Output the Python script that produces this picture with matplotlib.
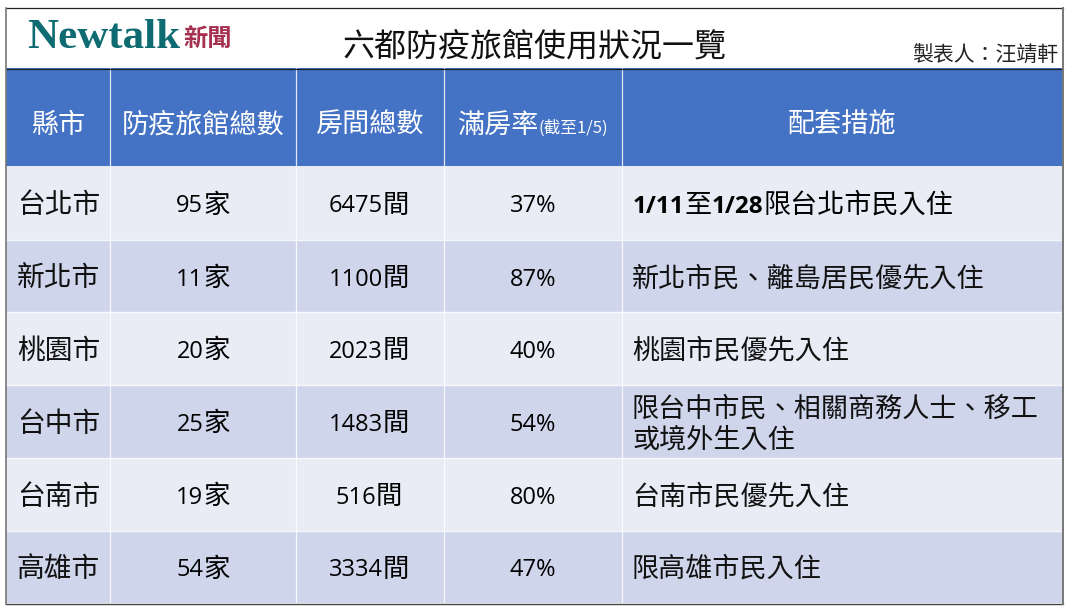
import matplotlib
matplotlib.use("Agg")
import matplotlib.pyplot as plt
from matplotlib.patches import Rectangle

CJK = "Noto Sans CJK TC"
LATIN = "Open Sans"

title = "六都防疫旅館使用狀況一覽"
author = "製表人：汪靖軒"
headers = ["縣市", "防疫旅館總數", "房間總數", "配套措施"]
cities = ["台北市", "新北市", "桃園市", "台中市", "台南市", "高雄市"]
hotels = [95, 11, 20, 25, 19, 54]
rooms = [6475, 1100, 2023, 1483, 516, 3334]
occupancy = [37, 87, 40, 54, 80, 47]
measures = [
    "1/11至1/28限台北市民入住",
    "新北市民、離島居民優先入住",
    "桃園市民優先入住",
    "限台中市民、相關商務人士、移工\n或境外生入住",
    "台南市民優先入住",
    "限高雄市民入住",
]

col_x = [6, 110, 296, 444, 622, 1063]
row_y = [166, 240, 312, 385, 458, 531, 603]

fig = plt.figure(figsize=(10.71, 6.06), dpi=100)
ax = fig.add_axes([0, 0, 1, 1])
ax.set_xlim(0, 1071)
ax.set_ylim(606, 0)
ax.axis("off")


def draw_runs(x, y, runs, ha="center", color="black"):
    # runs = (text, family, size, weight), laid out one after the other
    renderer = fig.canvas.get_renderer()
    items = []
    total = 0
    for text, family, size, weight in runs:
        t = ax.text(0, y, text, family=family, fontsize=size, weight=weight,
                    color=color, ha="left", va="baseline")
        w = t.get_window_extent(renderer).width
        items.append((t, w))
        total += w
    cur = x - total / 2 if ha == "center" else x
    for t, w in items:
        t.set_x(cur)
        cur += w


# header band
ax.add_patch(Rectangle((col_x[0], 68), col_x[-1] - col_x[0], 98, fc="#4472c4", ec="none"))

# body rows
for i in range(len(cities)):
    color = "#e9ebf5" if i % 2 == 0 else "#cfd5ea"
    ax.add_patch(Rectangle((col_x[0], row_y[i]), col_x[-1] - col_x[0], row_y[i + 1] - row_y[i],
                           fc=color, ec="none"))
for y in row_y[1:-1]:
    ax.plot([col_x[0], col_x[-1]], [y, y], color="white", lw=1.0, alpha=0.8)
for x in col_x[1:-1]:
    ax.plot([x, x], [68, row_y[-1]], color="white", lw=0.9, alpha=0.85)

# frame
ax.plot([6, 1063], [8, 8], color="#222222", lw=0.9)
ax.plot([6, 1063], [68.5, 68.5], color="#222222", lw=0.9)
ax.plot([6, 1063], [603.5, 603.5], color="#444444", lw=1.0)
ax.plot([6, 6], [8, 604], color="#777777", lw=1.2)
ax.plot([1063, 1063], [8, 604], color="#777777", lw=1.4)

# logo
ax.text(27, 48, "Newtalk", family="Liberation Serif", weight="bold", fontsize=31,
        color="#0f6b72", ha="left", va="baseline")
ax.text(183, 46, "新聞", family=CJK, weight="black", fontsize=17.5,
        color="#a5304f", ha="left", va="baseline")

ax.text(535, 56, title, family=CJK, fontsize=23, color="#111111", ha="center", va="baseline")
ax.text(1058, 62, author, family=CJK, fontsize=15, weight="light", color="#222222",
        ha="right", va="baseline")

# header labels
hdr_y = 133
hdr_kw = dict(family=CJK, fontsize=19.5, weight="medium", color="white", ha="center", va="baseline")
ax.text(58, hdr_y, headers[0], **hdr_kw)
ax.text(203, hdr_y, headers[1], **hdr_kw)
ax.text(370, hdr_y, headers[2], **hdr_kw)
ax.text(842, hdr_y, headers[3], **hdr_kw)
draw_runs(533, hdr_y, [("滿房率", CJK, 19.5, "medium"), ("(截至1/5)", CJK, 12, "medium")], color="white")

# body cells
for i, city in enumerate(cities):
    base = (row_y[i] + row_y[i + 1]) / 2 + 10
    num_base = base - 0.5
    ax.text(58.5, base, city, family=CJK, fontsize=20, weight="light", color="#111111",
            ha="center", va="baseline")
    draw_runs(203, num_base, [(str(hotels[i]), LATIN, 17, "normal"), ("家", CJK, 19, "light")])
    draw_runs(369, num_base, [(str(rooms[i]), LATIN, 17, "normal"), ("間", CJK, 19, "light")])
    ax.text(533, num_base, f"{occupancy[i]}%", family=LATIN, fontsize=17, color="black",
            ha="center", va="baseline")

    text = measures[i]
    if i == 0:
        draw_runs(633, base, [("1/11", LATIN, 17.5, "bold"), ("至", CJK, 19.5, "light"),
                              ("1/28", LATIN, 17.5, "bold"), ("限台北市民入住", CJK, 19.5, "light")], ha="left")
    elif "\n" in text:
        for k, line in enumerate(text.split("\n")):
            ax.text(632, base - 14.5 + 31 * k, line, family=CJK, fontsize=19.5, weight="light",
                    color="#111111", ha="left", va="baseline")
    else:
        ax.text(632, base, text, family=CJK, fontsize=19.5, weight="light", color="#111111",
                ha="left", va="baseline")

fig.savefig("out.png", dpi=100)
